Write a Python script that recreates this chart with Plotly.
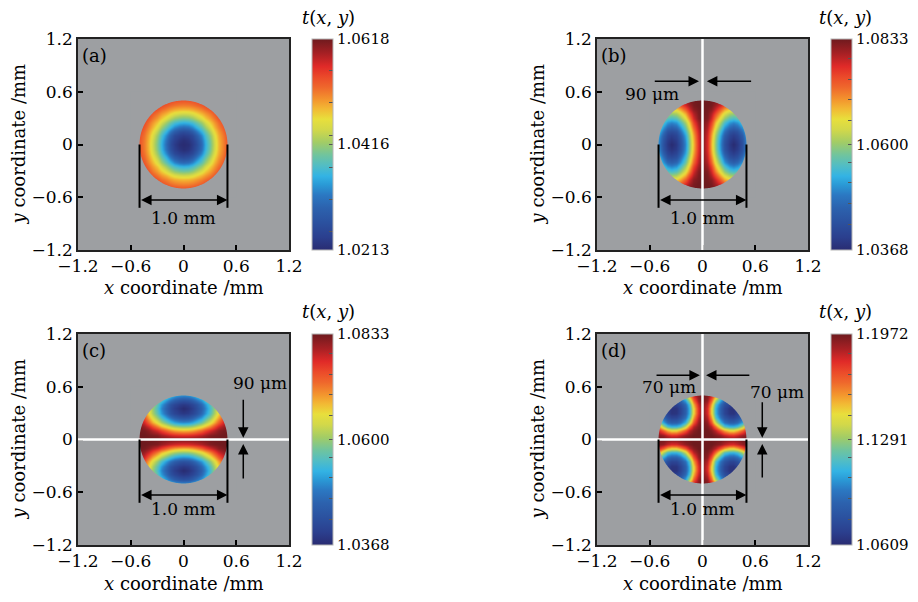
import numpy as np
import plotly.graph_objects as go

# ---------------- data ----------------
# grid coordinates of one quadrant of the 1.0 mm pupil (mm); full field is mirrored
quadrant_coords_mm = [0.0, 0.05, 0.1, 0.15, 0.2, 0.25, 0.3, 0.35, 0.4, 0.45, 0.5]
pupil_radius_mm = 0.5

# colour level (0 = bottom of colour bar, 1 = top) read at each grid node,
# rows: y = 0 ... 0.5 mm, columns: x = 0 ... 0.5 mm
a_level = [
    [0.00, 0.010, 0.050, 0.110, 0.220, 0.350, 0.460, 0.570, 0.670, 0.740, 0.800],
    [0.01, 0.027, 0.064, 0.128, 0.236, 0.361, 0.469, 0.577, 0.674, 0.743, 0.803],
    [0.05, 0.064, 0.100, 0.177, 0.281, 0.392, 0.496, 0.598, 0.687, 0.753, 0.810],
    [0.11, 0.128, 0.177, 0.252, 0.350, 0.441, 0.538, 0.632, 0.708, 0.769, 0.822],
    [0.22, 0.236, 0.281, 0.350, 0.422, 0.504, 0.591, 0.674, 0.736, 0.791, 0.839],
    [0.35, 0.361, 0.392, 0.441, 0.504, 0.577, 0.651, 0.712, 0.766, 0.815, 0.859],
    [0.46, 0.469, 0.496, 0.538, 0.591, 0.651, 0.704, 0.753, 0.800, 0.841, 0.883],
    [0.57, 0.577, 0.598, 0.632, 0.674, 0.712, 0.753, 0.794, 0.832, 0.870, 0.911],
    [0.67, 0.674, 0.687, 0.708, 0.736, 0.766, 0.800, 0.832, 0.866, 0.902, 0.941],
    [0.74, 0.743, 0.753, 0.769, 0.791, 0.815, 0.841, 0.870, 0.902, 0.937, 0.973],
    [0.80, 0.803, 0.810, 0.822, 0.839, 0.859, 0.883, 0.911, 0.941, 0.973, 1.000],
]
b_level = [
    [0.980, 0.870, 0.670, 0.480, 0.290, 0.130, 0.040, 0.000, 0.040, 0.130, 0.290],
    [0.980, 0.873, 0.677, 0.488, 0.301, 0.144, 0.054, 0.024, 0.054, 0.144, 0.301],
    [0.982, 0.883, 0.697, 0.512, 0.332, 0.181, 0.089, 0.056, 0.089, 0.181, 0.332],
    [0.984, 0.898, 0.730, 0.551, 0.381, 0.237, 0.134, 0.109, 0.134, 0.237, 0.381],
    [0.988, 0.919, 0.775, 0.602, 0.444, 0.307, 0.219, 0.186, 0.219, 0.307, 0.444],
    [0.992, 0.945, 0.830, 0.663, 0.518, 0.396, 0.310, 0.281, 0.310, 0.396, 0.518],
    [0.997, 0.976, 0.883, 0.737, 0.600, 0.491, 0.417, 0.391, 0.417, 0.491, 0.600],
    [1.000, 0.986, 0.922, 0.818, 0.689, 0.590, 0.525, 0.502, 0.525, 0.590, 0.689],
    [1.000, 0.992, 0.965, 0.889, 0.786, 0.693, 0.634, 0.614, 0.634, 0.693, 0.786],
    [1.000, 1.000, 0.986, 0.940, 0.879, 0.802, 0.748, 0.729, 0.748, 0.802, 0.879],
    [1.000, 1.000, 0.994, 0.982, 0.936, 0.893, 0.864, 0.846, 0.864, 0.893, 0.936],
]
d_level = [
    [1.000, 1.000, 1.000, 1.000, 1.000, 0.987, 0.978, 0.977, 0.985, 1.000, 1.000],
    [1.000, 1.000, 1.000, 0.980, 0.955, 0.910, 0.875, 0.870, 0.900, 0.950, 0.975],
    [1.000, 1.000, 0.970, 0.910, 0.800, 0.700, 0.630, 0.625, 0.680, 0.780, 0.885],
    [1.000, 0.980, 0.910, 0.760, 0.560, 0.410, 0.360, 0.355, 0.395, 0.525, 0.720],
    [1.000, 0.955, 0.800, 0.560, 0.360, 0.240, 0.190, 0.185, 0.225, 0.330, 0.505],
    [0.987, 0.910, 0.700, 0.410, 0.240, 0.140, 0.085, 0.080, 0.120, 0.210, 0.375],
    [0.978, 0.875, 0.630, 0.360, 0.190, 0.085, 0.030, 0.025, 0.070, 0.160, 0.315],
    [0.977, 0.870, 0.625, 0.355, 0.185, 0.080, 0.025, 0.020, 0.065, 0.155, 0.310],
    [0.985, 0.900, 0.680, 0.395, 0.225, 0.120, 0.070, 0.065, 0.100, 0.200, 0.360],
    [1.000, 0.950, 0.780, 0.525, 0.330, 0.210, 0.160, 0.155, 0.200, 0.300, 0.465],
    [1.000, 0.975, 0.885, 0.720, 0.505, 0.375, 0.315, 0.310, 0.360, 0.465, 0.675],
]

# colour-bar tick values t(x, y): min, mid, max
a_scale = [1.0213, 1.0416, 1.0618]
b_scale = [1.0368, 1.0600, 1.0833]
c_scale = [1.0368, 1.0600, 1.0833]
d_scale = [1.0609, 1.1291, 1.1972]

panel_labels = ["(a)", "(b)", "(c)", "(d)"]
axis_ticks = [-1.2, -0.6, 0, 0.6, 1.2]
scale_bar_text = "1.0 mm"
gap_text_bc = "90 μm"
gap_text_d = "70 μm"

# ---------------- build fields ----------------
def mirror(q):
    q = np.asarray(q, dtype=float)
    top = np.hstack([q[:, :0:-1], q])
    return np.vstack([top[:0:-1, :], top])

qc = np.asarray(quadrant_coords_mm)
coords = np.concatenate([-qc[:0:-1], qc])

a_full = mirror(a_level)
b_full = mirror(b_level)
c_full = b_full.T          # panel (c) is panel (b) rotated by 90 degrees
d_full = mirror(d_level)

fields = [(a_full, a_scale), (b_full, b_scale), (c_full, c_scale), (d_full, d_scale)]

colorscale = [
    [0.00, "#292c72"], [0.06, "#2b3f8e"], [0.13, "#2b519f"], [0.20, "#2c62ae"],
    [0.26, "#2b78c2"], [0.31, "#2a9ad6"], [0.35, "#33b3e4"], [0.40, "#52bdc4"],
    [0.45, "#70c49e"], [0.51, "#a2cc66"], [0.57, "#d2d84a"], [0.62, "#e8df3c"],
    [0.67, "#f2b834"], [0.71, "#f3972e"], [0.77, "#ef682c"], [0.82, "#eb4a2a"],
    [0.87, "#e02a28"], [0.93, "#a82024"], [1.00, "#6e1a1e"],
]

# page is shown with an 8 px body margin: figure is 902x586 placed at (8, 8)
OFF = 8
W, H = 918 - 2 * OFF, 602 - 2 * OFF
GRAY = "#9d9fa2"
FONT = "DejaVu Serif"


def fx(px):
    return (px - OFF) / W


def fy(py):
    return 1 - (py - OFF) / H


# page-pixel layout of the four panels
panels = [
    dict(x0=78, x1=289, y0=39, y1=250, cbx=312, cbt=328, xt=287, yt=18),
    dict(x0=597, x1=808, y0=39, y1=250, cbx=831, cbt=845, xt=287, yt=537),
    dict(x0=78, x1=289, y0=334, y1=545, cbx=312, cbt=328, xt=583, yt=18),
    dict(x0=597, x1=808, y0=334, y1=545, cbx=831, cbt=845, xt=583, yt=537),
]
cb_minor = [
    [0.087, 0.239, 0.392, 0.545, 0.698, 0.850],
    [0.123, 0.221, 0.319, 0.417, 0.613, 0.711, 0.809, 0.907],
    [0.123, 0.221, 0.319, 0.417, 0.613, 0.711, 0.809, 0.907],
    [0.123, 0.221, 0.319, 0.417, 0.613, 0.711, 0.809, 0.907],
]

fig = go.Figure()
layout = dict(width=W, height=H, margin=dict(l=0, r=0, t=0, b=0, autoexpand=False),
              paper_bgcolor="white", plot_bgcolor=GRAY, showlegend=False)
shapes, annotations = [], []
TXT = dict(showarrow=False, xanchor="center", yanchor="middle", borderpad=0, borderwidth=0)

# circular pupil mask (gray outside the circle)
theta = np.linspace(0, 2 * np.pi, 241)
circ = " ".join(f"L{pupil_radius_mm*np.cos(t):.5f},{pupil_radius_mm*np.sin(t):.5f}" for t in theta[1:])
mask_path = (f"M-0.6,-0.6 L0.6,-0.6 L0.6,0.6 L-0.6,0.6 Z "
             f"M{pupil_radius_mm:.5f},0 {circ} Z")

for k, (p, (lev, sc)) in enumerate(zip(panels, fields)):
    n = "" if k == 0 else str(k + 1)
    xr, yr = "x" + n, "y" + n
    tmin, tmid, tmax = sc
    z = tmin + lev * (tmax - tmin)
    minor_vals = [tmin + f * (tmax - tmin) for f in cb_minor[k]]
    tickvals = [tmin, tmid, tmax] + minor_vals
    ticktext = [f"{tmin:.4f}", f"{tmid:.4f}", f"{tmax:.4f}"] + [""] * len(minor_vals)
    fig.add_trace(go.Heatmap(
        x=coords, y=coords, z=z, zmin=tmin, zmax=tmax, zsmooth="best",
        colorscale=colorscale, xaxis=xr, yaxis=yr,
        colorbar=dict(x=fx(p["cbx"]), xanchor="left", xpad=0,
                      y=fy(p["y0"]), yanchor="top", ypad=0,
                      len=(p["y1"] - p["y0"]) / H, lenmode="fraction",
                      thickness=21, thicknessmode="pixels",
                      outlinewidth=1, outlinecolor="#b5b5b5",
                      ticks="inside", ticklen=4, tickwidth=1, tickcolor="#555555",
                      tickvals=tickvals, ticktext=ticktext,
                      tickfont=dict(family=FONT, size=15, color="black")),
    ))
    ax_common = dict(range=[-1.2, 1.2], tickvals=axis_ticks, ticks="inside", ticklen=5,
                     tickwidth=1.5, tickcolor="black", showline=True, mirror=True,
                     linecolor="#222222", linewidth=1.5, showgrid=False, zeroline=False,
                     tickfont=dict(family=FONT, size=17, color="black"), fixedrange=True,
                     automargin=False)
    layout["xaxis" + n] = dict(ax_common, domain=[fx(p["x0"]), fx(p["x1"])], anchor=yr)
    layout["yaxis" + n] = dict(ax_common, domain=[fy(p["y1"]), fy(p["y0"])], anchor=xr)

    shapes.append(dict(type="path", path=mask_path, xref=xr, yref=yr,
                       fillcolor=GRAY, fillrule="evenodd", line=dict(width=0), layer="above"))
    # separating gaps (white lines)
    if k in (1, 3):
        shapes.append(dict(type="line", xref=xr, yref=yr, x0=0, x1=0, y0=-1.2, y1=1.2,
                           line=dict(color="white", width=2.5)))
    if k in (2, 3):
        shapes.append(dict(type="line", xref=xr, yref=yr, x0=-1.2, x1=1.2, y0=0, y1=0,
                           line=dict(color="white", width=2.5)))
    # 1.0 mm scale bar
    for sx in (-pupil_radius_mm, pupil_radius_mm):
        shapes.append(dict(type="line", xref=xr, yref=yr, x0=sx, x1=sx, y0=0.0, y1=-0.72,
                           line=dict(color="black", width=2)))
    arrow = dict(xref=xr, yref=yr, axref=xr, ayref=yr, showarrow=True, text="",
                 arrowhead=2, arrowsize=1.4, arrowwidth=1.5, arrowcolor="black",
                 standoff=0, startstandoff=0)
    annotations.append(dict(arrow, x=pupil_radius_mm, y=-0.63, ax=-pupil_radius_mm, ay=-0.63,
                            arrowside="end+start", startarrowhead=2, startarrowsize=1.4))
    ty = -0.836 if k < 2 else -0.794
    annotations.append(dict(TXT, xref=xr, yref=yr, x=0, y=ty, text=scale_bar_text,
                            font=dict(family=FONT, size=17, color="black")))
    # gap arrows
    if k == 1:
        annotations.append(dict(arrow, x=-0.04, y=0.72, ax=-0.56, ay=0.72))
        annotations.append(dict(arrow, x=0.05, y=0.72, ax=0.57, ay=0.72))
        annotations.append(dict(TXT, xref=xr, yref=yr, x=-0.575, y=0.57, text=gap_text_bc,
                                font=dict(family=FONT, size=17, color="black")))
    if k == 2:
        annotations.append(dict(arrow, x=0.68, y=0.02, ax=0.68, ay=0.47))
        annotations.append(dict(arrow, x=0.68, y=-0.05, ax=0.68, ay=-0.46))
        annotations.append(dict(TXT, xref=xr, yref=yr, x=0.865, y=0.64, text=gap_text_bc,
                                font=dict(family=FONT, size=17, color="black")))
    if k == 3:
        annotations.append(dict(arrow, x=-0.03, y=0.73, ax=-0.54, ay=0.73))
        annotations.append(dict(arrow, x=0.04, y=0.73, ax=0.55, ay=0.73))
        annotations.append(dict(arrow, x=0.68, y=0.02, ax=0.68, ay=0.44))
        annotations.append(dict(arrow, x=0.68, y=-0.05, ax=0.68, ay=-0.45))
        annotations.append(dict(TXT, xref=xr, yref=yr, x=-0.38, y=0.60, text=gap_text_d,
                                font=dict(family=FONT, size=17, color="black")))
        annotations.append(dict(TXT, xref=xr, yref=yr, x=0.845, y=0.54, text=gap_text_d,
                                font=dict(family=FONT, size=17, color="black")))
    # panel label
    annotations.append(dict(TXT, xref=xr, yref=yr, x=-1.15, y=1.01, xanchor="left",
                            text=panel_labels[k],
                            font=dict(family=FONT, size=18, color="black")))
    # axis titles
    annotations.append(dict(TXT, xref="paper", yref="paper", x=fx((p["x0"] + p["x1"]) / 2),
                            y=fy(p["xt"]), text="<i>x</i> coordinate /mm",
                            font=dict(family=FONT, size=18, color="black")))
    annotations.append(dict(TXT, xref="paper", yref="paper", x=fx(p["yt"]),
                            y=fy((p["y0"] + p["y1"]) / 2), text="<i>y</i> coordinate /mm",
                            textangle=-90, font=dict(family=FONT, size=18, color="black")))
    # colour bar title
    annotations.append(dict(TXT, xref="paper", yref="paper", x=fx(p["cbt"]),
                            y=fy(p["y0"] - 22), text="<i>t</i>(<i>x</i>, <i>y</i>)",
                            font=dict(family=FONT, size=18, color="black")))

layout["shapes"] = shapes
layout["annotations"] = annotations
fig.update_layout(**layout)
fig.write_html("out.html")
